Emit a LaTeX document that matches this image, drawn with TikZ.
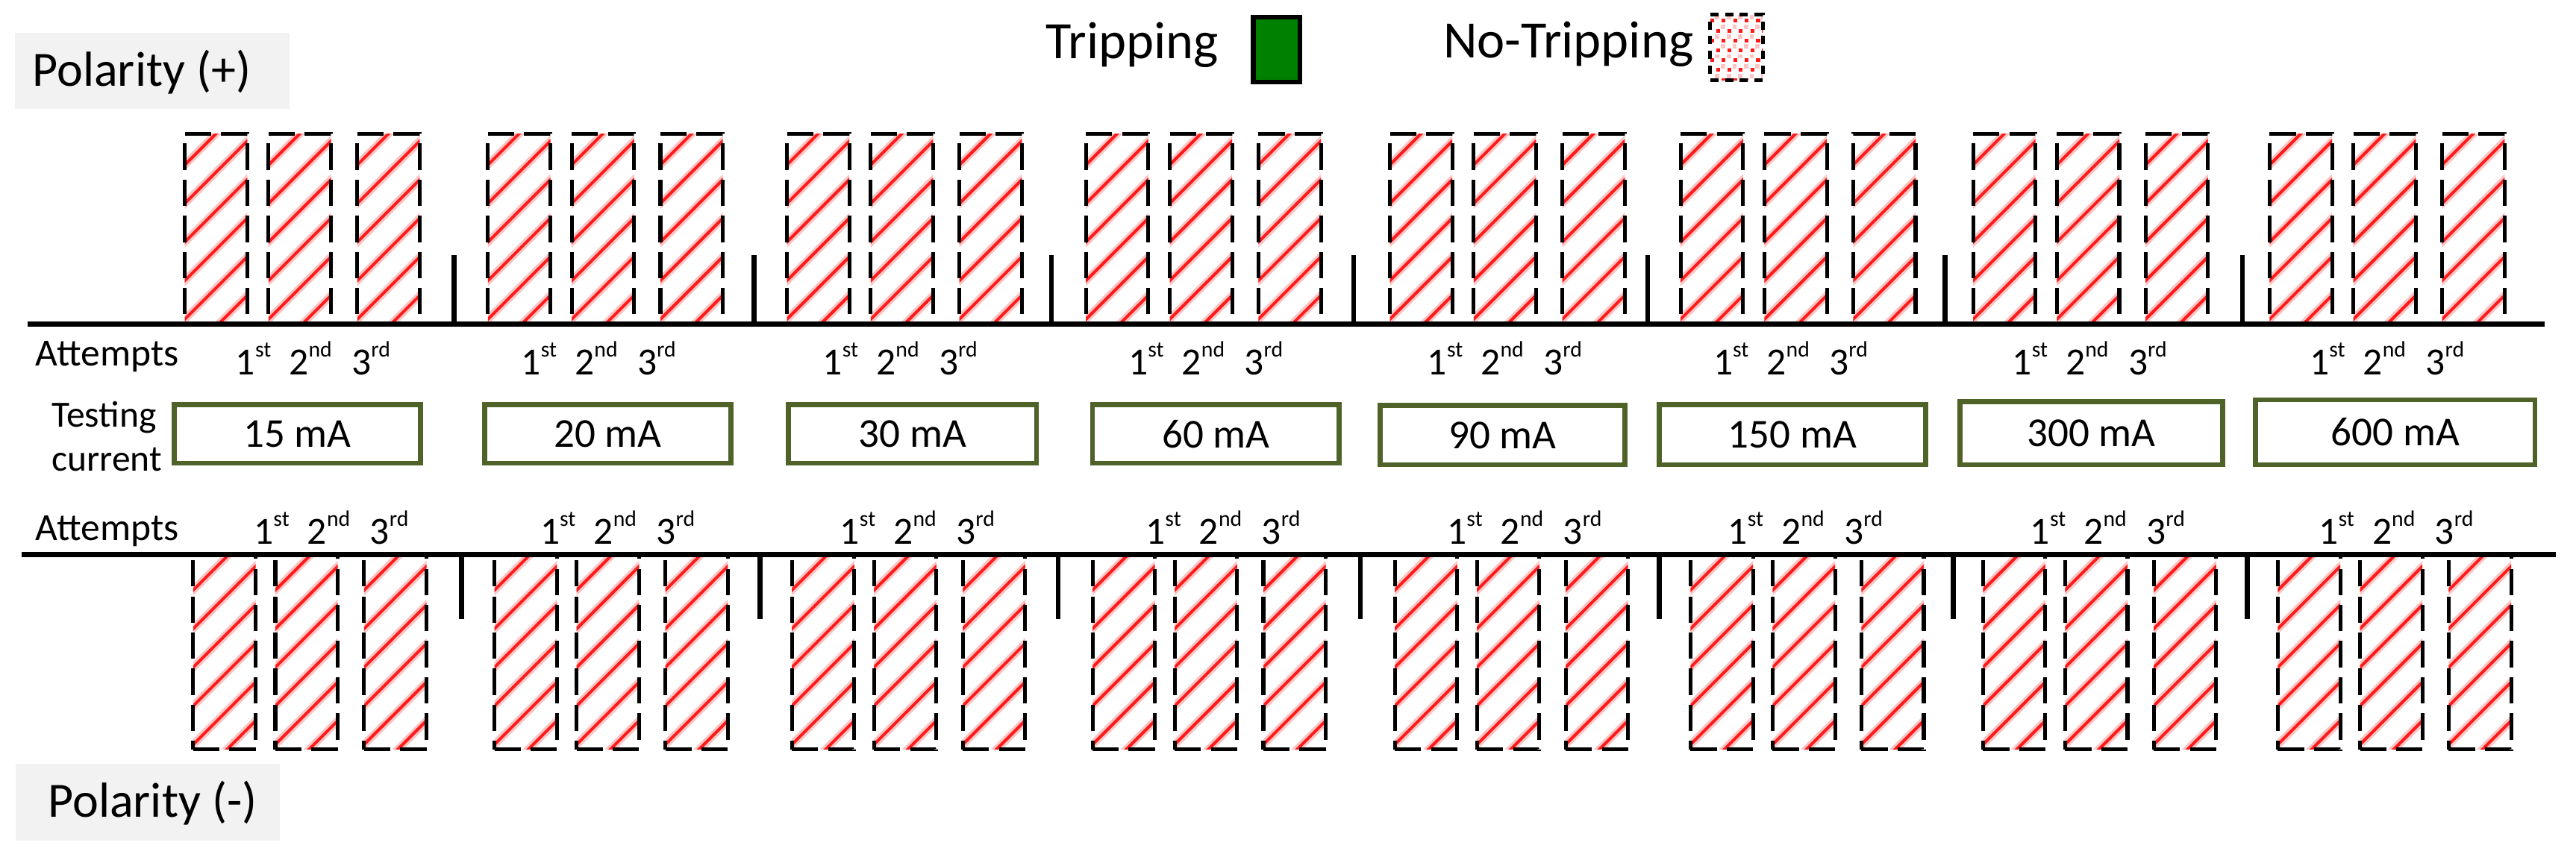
\documentclass[tikz,border=0pt]{standalone}
\usepackage{fontspec}
\setmainfont{Carlito}
\definecolor{olivebox}{HTML}{4F6228}
\definecolor{tripgreen}{HTML}{008000}
\definecolor{polgray}{HTML}{F2F2F2}
\definecolor{stripered}{HTML}{FF1A1A}
\definecolor{stripepink}{HTML}{FFC4C4}
\newcommand{\supx}[1]{\raisebox{11pt}{\fontsize{13.5}{13.5}\selectfont #1}}
\newcommand{\ords}{1\supx{st}\hspace{11pt}2\supx{nd}\hspace{12pt}3\supx{rd}}
\newcommand{\attbar}[3]{%
  \begin{scope}
    \clip ({#1},{#2}) rectangle ({#1+38},{#3});
    \foreach \k in {-1,...,5}{%
      \draw[stripepink,line width=4.8pt] ({#1-5},{#3-3-23.5*(\k)+5}) -- ++(60,-60);
      \draw[stripered,line width=1.8pt] ({#1-5},{#3-3-23.5*(\k)+5}) -- ++(60,-60);
    }
  \end{scope}
  \draw[barline] ({#1},{#3}) -- ({#1+38},{#3}) -- ({#1+38},{#2}) -- ({#1},{#2}) -- cycle;
}
\tikzset{
  barline/.style={draw=black, line width=2.3pt, dash pattern=on 16pt off 6pt},
  cbox/.style={draw=olivebox, line width=3pt, inner sep=0pt, font=\fontsize{25}{25}\selectfont},
  lbl/.style={inner sep=0pt, anchor=base west, font=\fontsize{23.4}{23.4}\selectfont},
  polbox/.style={fill=polgray, draw=none, inner sep=0pt, anchor=north west},
  poltext/.style={inner sep=0pt, anchor=base west, font=\fontsize{30}{30}\selectfont},
  legtext/.style={inner sep=0pt, anchor=base west, font=\fontsize{32}{32}\selectfont},
  rulex/.style={line width=3pt, black},
  septick/.style={line width=3pt, black}
}
\begin{document}
\begin{tikzpicture}[x=1pt,y=-1pt]
\useasboundingbox[fill=white] (0,0) rectangle (1568,523.7);

% legend
\node[legtext] (trip) at (636.5,35.6) {Tripping};
\node[draw=black, line width=3pt, fill=tripgreen, minimum width=28.2pt, minimum height=39.5pt, inner sep=0pt] (tripbox) at (777.1,30.25) {};
\node[legtext] (notrip) at (878.3,35.4) {No-Tripping};
\begin{scope}
  \clip (1041,9) rectangle (1073,49);
  \foreach \i in {0,...,5}{
    \foreach \j in {0,...,7}{
      \fill[stripepink] ({1040+7*\i+3.5*mod(\j,2)+4},{8+6*\j+1}) rectangle ++(2.6,2.6);
      \fill[stripered] ({1040+7*\i+3.5*mod(\j,2)+1},{8+6*\j+3.5}) rectangle ++(2.3,2.3);
    }
  }
\end{scope}
\node[draw=black, line width=2.3pt, dash pattern=on 5pt off 4pt, minimum width=32pt, minimum height=40pt, inner sep=0pt] (notripbox) at (1057,29) {};

% polarity labels
\node[polbox, minimum width=167pt, minimum height=46pt] (polpbox) at (9,20) {};
\node[poltext] (polp) at (19.6,52.3) {Polarity (+)};
\node[polbox, minimum width=160.5pt, minimum height=46.5pt] (polmbox) at (9.5,465) {};
\node[poltext] (polm) at (29.1,497.4) {Polarity (-)};

% top bars
\foreach \gx in {111.5,296,478,660,845,1022,1200,1380.5}{
  \foreach \o in {0,51,105}{
    \attbar{\gx+\o+1}{81.4}{197.4}
  }
}
% bottom bars
\foreach \gx in {116.6,300,481,664,848,1028,1206,1385.5}{
  \foreach \o in {0,50,104}{
    \attbar{\gx+\o+1}{337.8}{456.4}
  }
}

% base lines
\coordinate (tl) at (17,197.4);
\coordinate (tr) at (1549,197.4);
\coordinate (bl) at (13,337.8);
\coordinate (br) at (1555.5,337.8);
\draw[rulex] (tl) -- (tr);
\draw[rulex] (bl) -- (br);

% separators
\foreach \tx in {276.5,459,640,824,1003,1184,1365}{
  \draw[septick] (\tx,155.4) -- (\tx,197.4);
}
\foreach \tx in {281,462.5,644,828,1010,1189,1368}{
  \draw[septick] (\tx,337.8) -- (\tx,377);
}

% attempts labels
\node[lbl] (att1) at (21.5,222.6) {Attempts};
\node[lbl] (att2) at (21.5,329) {Attempts};
\foreach \xx/\nm in {143.3/1,317.2/2,500.7/3,686.7/4,868.7/5,1042.7/6,1224.7/7,1405.7/8}{
  \node[lbl] (ot\nm) at (\xx,228.3) {\ords};
}
\foreach \xx/\nm in {154.4/1,328.7/2,511.2/3,697.2/4,880.7/5,1051.7/6,1235.7/7,1411.3/8}{
  \node[lbl] (ob\nm) at (\xx,331.4) {\ords};
}

% testing current
\node[inner sep=0pt, anchor=base, font=\fontsize{22.5}{22.5}\selectfont] (testing) at (63.4,260) {Testing};
\node[inner sep=0pt, anchor=base, font=\fontsize{22.5}{22.5}\selectfont] (current) at (65,287) {current};

% current boxes
\node[cbox, minimum width=150pt, minimum height=35.5pt] (c1) at (181,264.25) {15 mA};
\node[cbox, minimum width=150pt, minimum height=35.5pt] (c2) at (370,264.25) {20 mA};
\node[cbox, minimum width=151pt, minimum height=35.5pt] (c3) at (555.5,264.25) {30 mA};
\node[cbox, minimum width=150pt, minimum height=35.5pt] (c4) at (740,264.25) {60 mA};
\node[cbox, minimum width=149pt, minimum height=36pt] (c5) at (914.5,265) {90 mA};
\node[cbox, minimum width=162pt, minimum height=36.5pt] (c6) at (1091,264.75) {150 mA};
\node[cbox, minimum width=160pt, minimum height=38.5pt] (c7) at (1273,263.75) {300 mA};
\node[cbox, minimum width=170pt, minimum height=39.5pt] (c8) at (1458,263.25) {600 mA};
\end{tikzpicture}
\end{document}
